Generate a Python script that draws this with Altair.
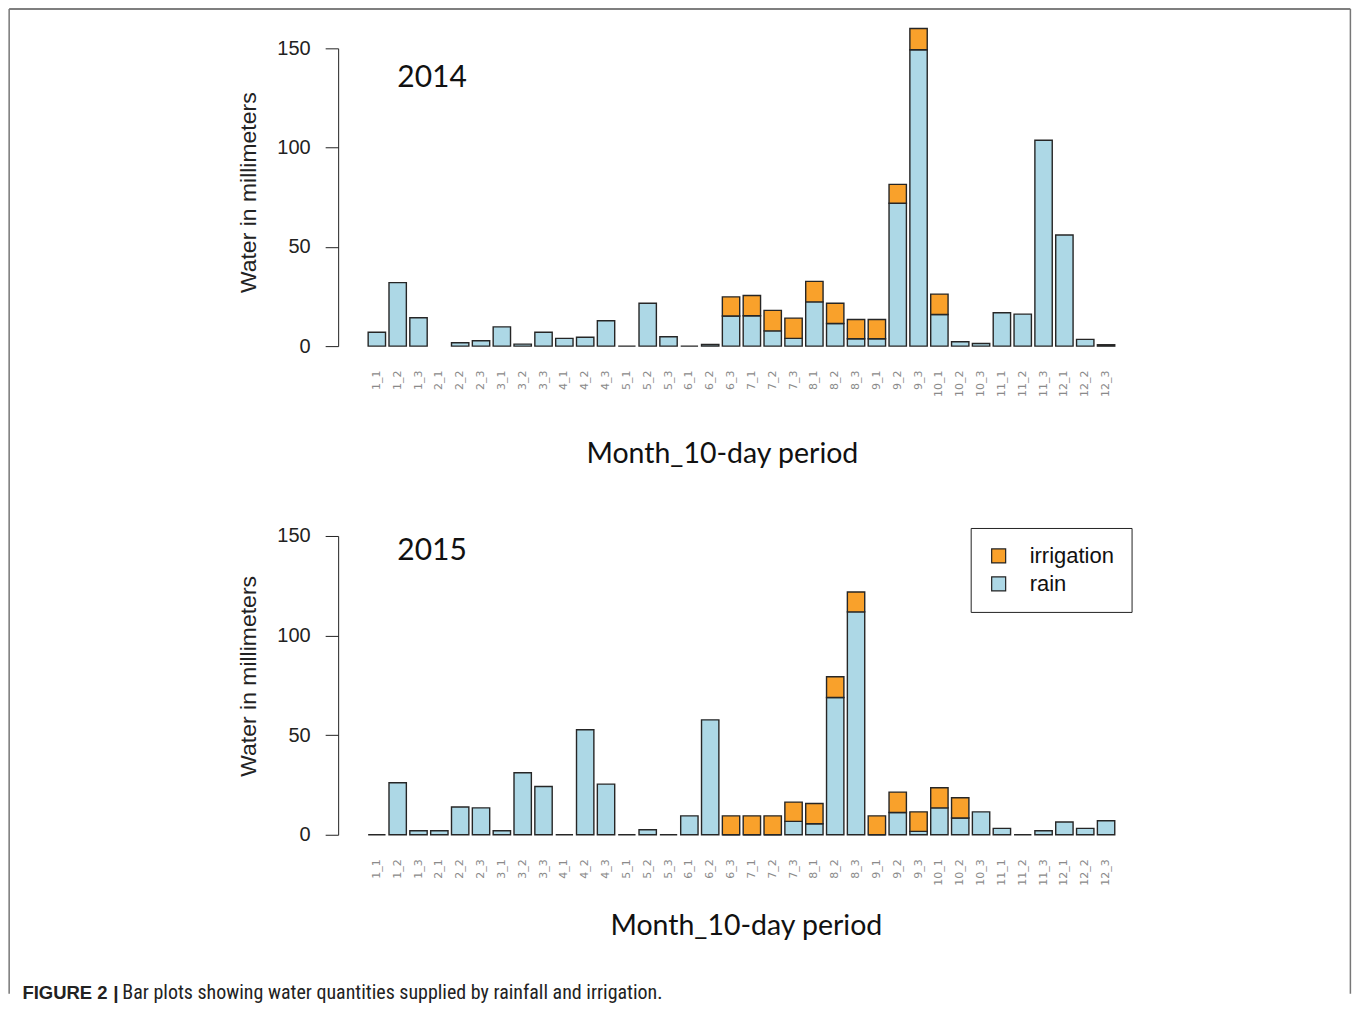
import altair as alt
import pandas as pd

periods = ["1_1", "1_2", "1_3", "2_1", "2_2", "2_3", "3_1", "3_2", "3_3",
           "4_1", "4_2", "4_3", "5_1", "5_2", "5_3", "6_1", "6_2", "6_3",
           "7_1", "7_2", "7_3", "8_1", "8_2", "8_3", "9_1", "9_2", "9_3",
           "10_1", "10_2", "10_3", "11_1", "11_2", "11_3", "12_1", "12_2", "12_3"]

rain_2014 = [7, 32, 14.3, None, 1.7, 2.7, 9.7, 1, 7,
             3.9, 4.5, 12.8, 0, 21.6, 4.7, 0, 0.8, 15.2,
             15.3, 7.7, 3.9, 22.3, 11.4, 3.7, 3.7, 72, 149.3,
             15.9, 2.2, 1.3, 16.8, 16.1, 103.7, 56, 3.4, 0.7]
irrigation_2014 = [0, 0, 0, 0, 0, 0, 0, 0, 0,
                   0, 0, 0, 0, 0, 0, 0, 0, 9.6,
                   10.2, 10.3, 10.2, 10.3, 10.2, 9.7, 9.7, 9.5, 10.7,
                   10.3, 0, 0, 0, 0, 0, 0, 0, 0]

rain_2015 = [0, 26.1, 2, 2, 13.9, 13.5, 2, 31.1, 24.2,
             0, 52.7, 25.4, 0, 2.5, 0, 9.5, 57.7, 0,
             0, 0, 6.7, 5.5, 68.9, 111.9, 0, 11.2, 1.7,
             13.5, 8.4, 11.5, 3.2, 0, 2, 6.4, 3.2, 7]
irrigation_2015 = [0, 0, 0, 0, 0, 0, 0, 0, 0,
                   0, 0, 0, 0, 0, 0, 0, 0, 9.5,
                   9.5, 9.5, 9.7, 10.2, 10.4, 10.0, 9.5, 10.2, 9.8,
                   10.1, 10.2, 0, 0, 0, 0, 0, 0, 0]

types = ["irrigation", "rain"]
colors = ["#F9A12B", "#ADD8E6"]
y_ticks = [0, 50, 100, 150]

X_TITLE = "Month_10-day period"
Y_TITLE = "Water in millimeters"
CAPTION_BOLD = "FIGURE 2"
CAPTION_BAR = "|"
CAPTION_TEXT = "Bar plots showing water quantities supplied by rainfall and irrigation."
CAP_FONT = "'Roboto Condensed', 'Liberation Sans Narrow', 'Arial Narrow', Roboto"


def make_df(rain, irr):
    rows = []
    for p, r, i in zip(periods, rain, irr):
        if r is not None:
            rows.append({"period": p, "type": "rain", "value": r, "ord": 0})
        if i:
            rows.append({"period": p, "type": "irrigation", "value": i, "ord": 1})
    return pd.DataFrame(rows)


# layout (page pixels)
OX = 357.6          # plot left
AX = 338            # y axis line
TOP_Y = 48          # top panel plot top
BOT_Y = 536         # bottom panel plot top
W = 768


def panel(year, rain, irr, height, xt_x, xt_y, yt_y, year_y, legend):
    df = make_df(rain, irr)
    bars = alt.Chart(df).mark_bar(stroke="#262626", strokeWidth=1.4, opacity=1).encode(
        x=alt.X("period:N", sort=periods,
                scale=alt.Scale(domain=periods, paddingInner=0.1667, paddingOuter=0.5),
                axis=alt.Axis(title=X_TITLE, labelAngle=270, labelFontSize=11,
                              labelFont="DejaVu Sans", labelColor="#8a8a8a",
                              labelPadding=24, ticks=False, domain=False,
                              titleFont="Lato", titleFontSize=28.5, titleFontWeight="normal",
                              titleColor="#111", titleX=xt_x, titleY=xt_y,
                              titleAlign="center", titleBaseline="alphabetic")),
        y=alt.Y("value:Q", stack="zero",
                scale=alt.Scale(domain=[0, 150], nice=False, zero=True),
                axis=alt.Axis(title=Y_TITLE, values=y_ticks, grid=False,
                              offset=OX - AX,
                              tickSize=13, tickColor="#222", domainColor="#222",
                              labelFont="Liberation Sans", labelFontSize=20,
                              labelColor="#222", labelPadding=15,
                              titleFont="Liberation Sans", titleFontSize=23,
                              titleFontWeight="normal", titleColor="#222",
                              titleX=-83, titleY=yt_y, titleAngle=270,
                              titleAlign="center", titleBaseline="alphabetic")),
        color=alt.Color("type:N", scale=alt.Scale(domain=types, range=colors),
                        legend=legend),
        order=alt.Order("ord:Q", sort="ascending"),
    )
    label = alt.Chart(pd.DataFrame({"label": [year]})).mark_text(
        font="Lato", fontSize=30, align="center", baseline="alphabetic", color="#111"
    ).encode(x=alt.value(432 - OX), y=alt.value(year_y), text="label:N")
    return bars, label


legend = alt.Legend(title=None, orient="none", legendX=971 - OX, legendY=528 - BOT_Y,
                    strokeColor="#222", padding=17, symbolType="square",
                    symbolSize=196, symbolStrokeColor="#222", symbolStrokeWidth=1.2,
                    symbolOpacity=1, labelFont="Liberation Sans", labelFontSize=22,
                    labelColor="#111", labelOffset=20, rowPadding=6)

bars14, label14 = panel("2014", rain_2014, irrigation_2014, 298,
                        722 - OX, 462 - 346, 192 - TOP_Y, 86.5 - TOP_Y, None)
bars15, label15 = panel("2015", rain_2015, irrigation_2015, 299,
                        746 - OX, 935 - 835, 676 - BOT_Y, 560 - BOT_Y, legend)

one = pd.DataFrame({"a": [0]})
L, R, T, B = 8.75 - OX, 1351 - OX, 8.75 - TOP_Y, 994 - TOP_Y
frame_top = alt.Chart(one).mark_rule(color="#555", strokeWidth=1.5).encode(
    x=alt.value(L), x2=alt.value(R), y=alt.value(T))
frame_left = alt.Chart(one).mark_rule(color="#777", strokeWidth=1.5).encode(
    x=alt.value(L), y=alt.value(T), y2=alt.value(B))
frame_right = alt.Chart(one).mark_rule(color="#777", strokeWidth=1.5).encode(
    x=alt.value(R), y=alt.value(T), y2=alt.value(B))

cap_df = pd.DataFrame({"b": [CAPTION_BOLD], "p": [CAPTION_BAR], "t": [CAPTION_TEXT]})
cap_bold = alt.Chart(cap_df).mark_text(
    font="Liberation Sans", fontSize=18.5, fontWeight="bold", align="left",
    baseline="middle", color="#222").encode(
    x=alt.value(22 - OX), y=alt.value(993 - BOT_Y), text="b:N")
cap_bar = alt.Chart(cap_df).mark_text(
    font="Liberation Sans", fontSize=19, fontWeight="bold", align="left",
    baseline="middle", color="#222").encode(
    x=alt.value(113 - OX), y=alt.value(993 - BOT_Y), text="p:N")
cap_text = alt.Chart(cap_df).mark_text(
    font=CAP_FONT, fontSize=20, align="left",
    baseline="middle", color="#222").encode(
    x=alt.value(122 - OX), y=alt.value(993 - BOT_Y), text="t:N")

top = alt.layer(bars14, label14, frame_top, frame_left, frame_right).properties(
    width=W, height=298)
bottom = alt.layer(bars15, label15, cap_bold, cap_bar, cap_text).properties(
    width=W, height=299)

chart = alt.vconcat(top, bottom, spacing=BOT_Y - 346, bounds="flush").resolve_scale(
    color="independent").resolve_legend(color="independent").properties(
    padding=0, background="white").configure_view(stroke=None, strokeWidth=0)

chart.save("out.html", embed_options={"renderer": "svg", "actions": False})
